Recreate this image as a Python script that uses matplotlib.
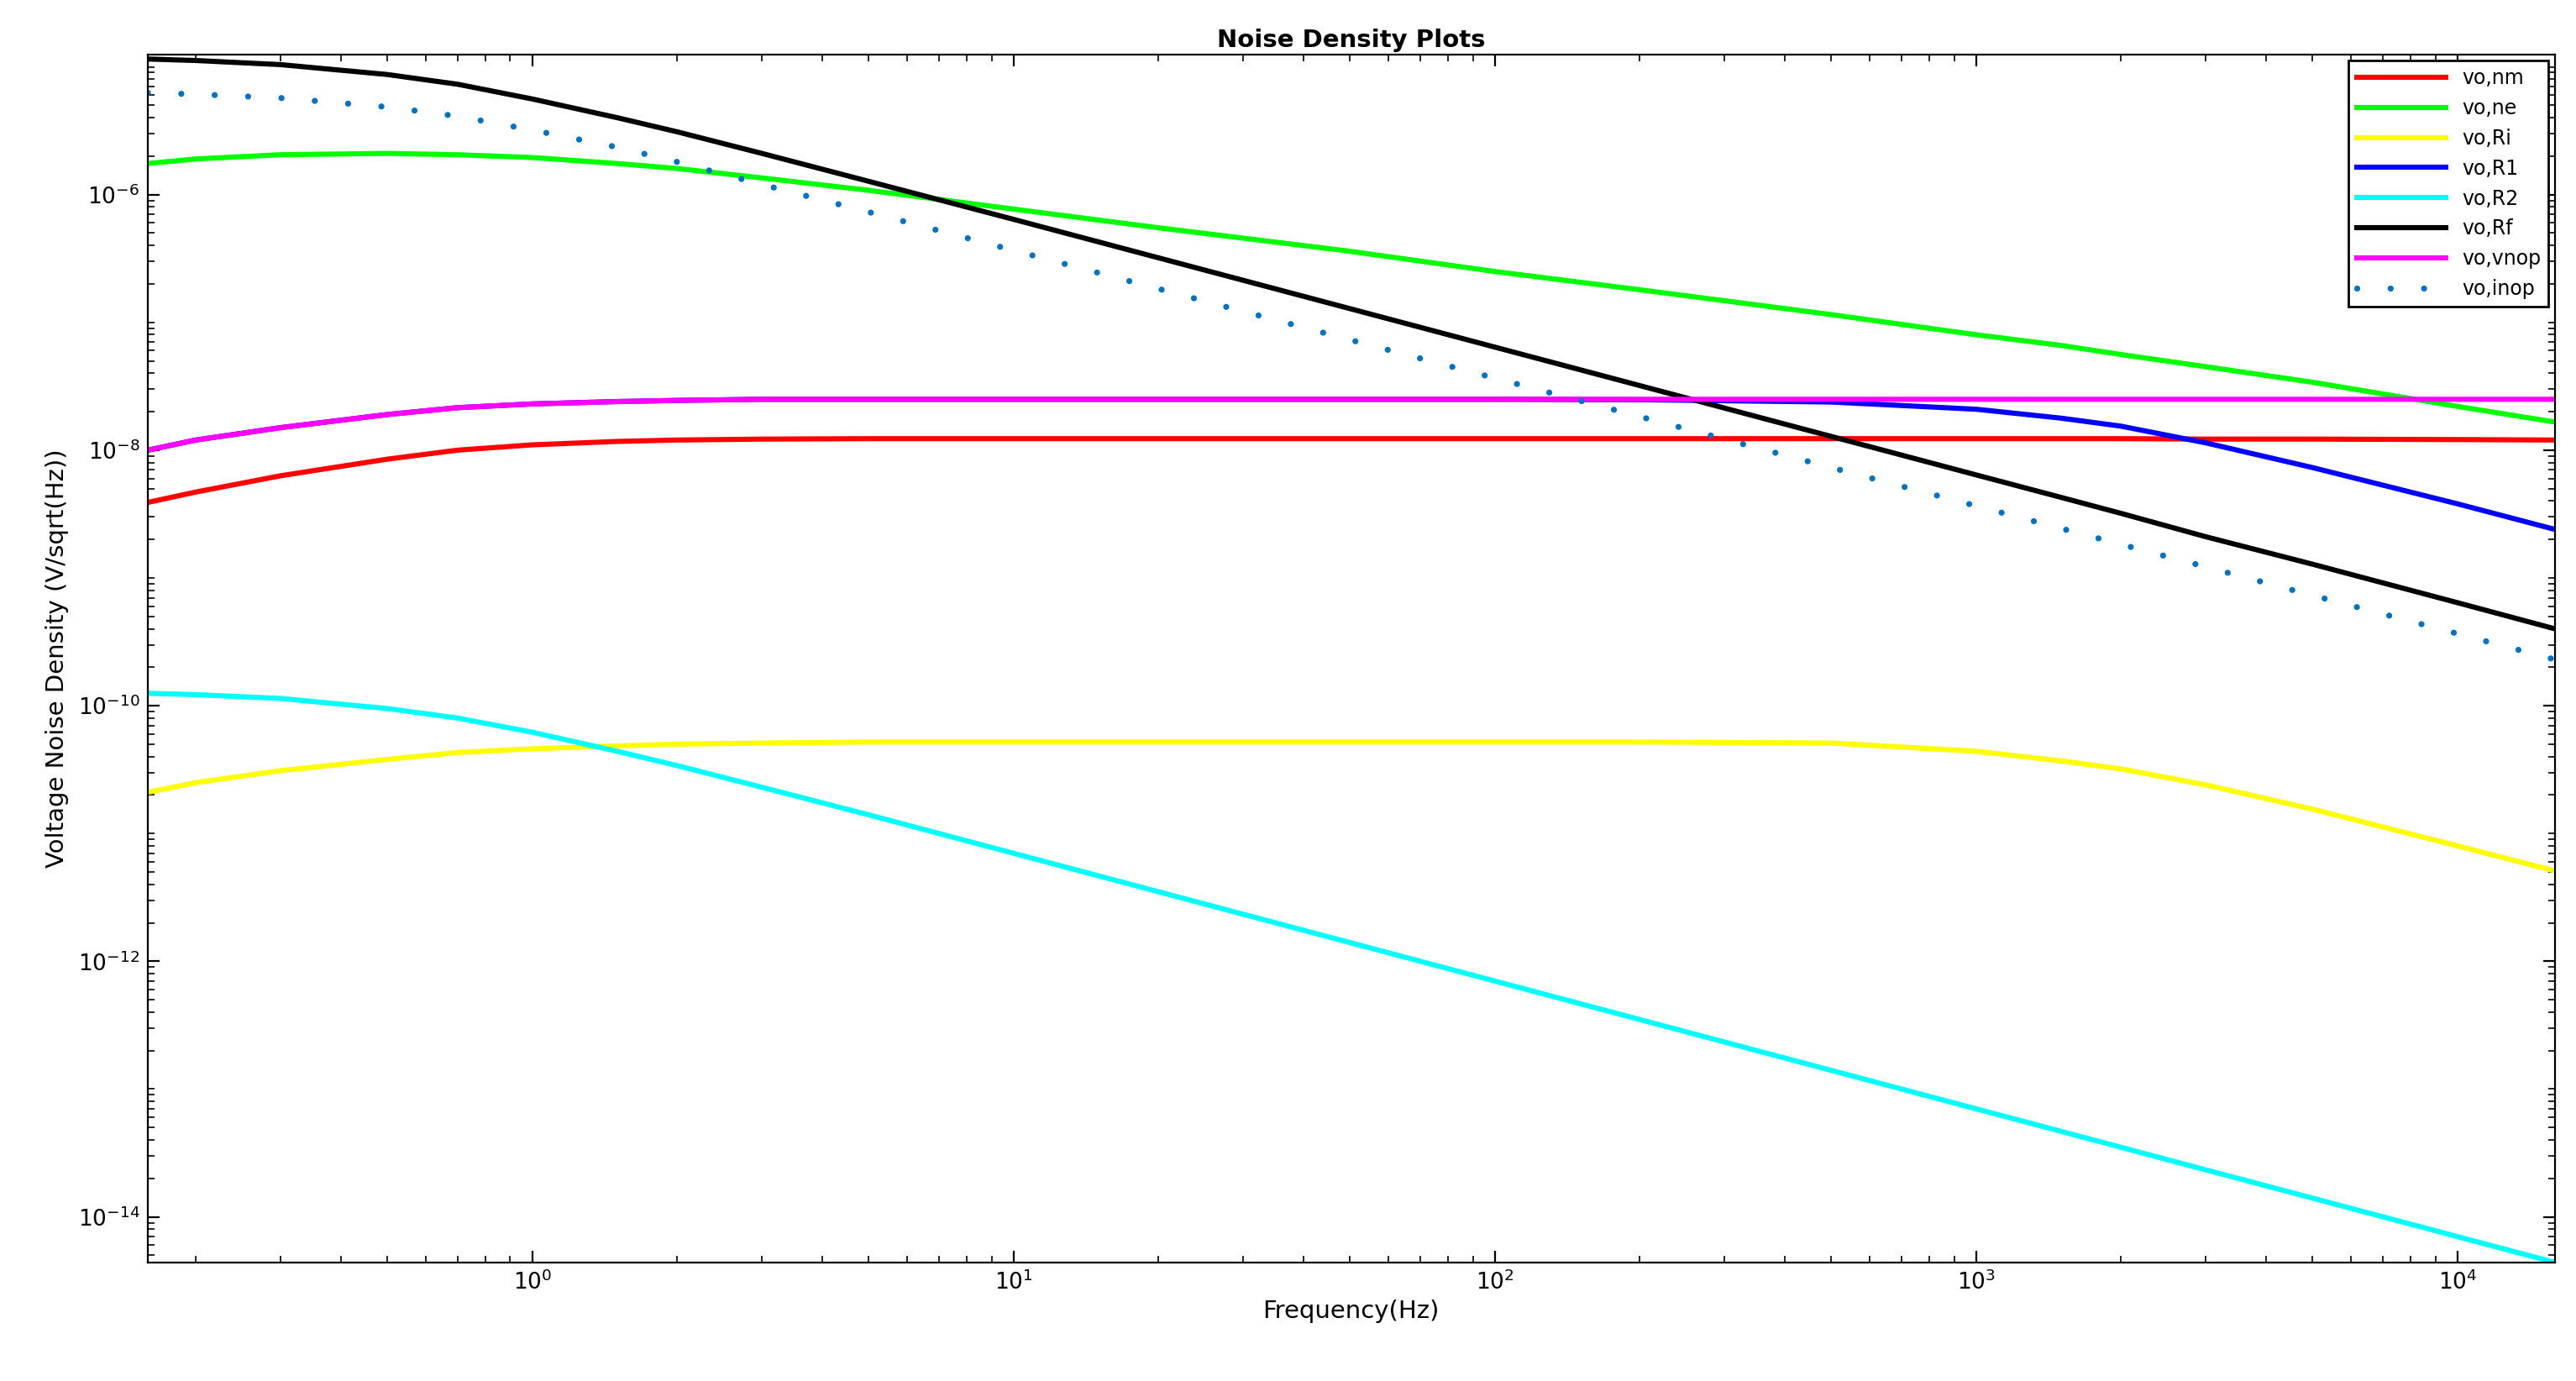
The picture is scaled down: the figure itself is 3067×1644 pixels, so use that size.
import matplotlib
matplotlib.use("Agg")
import matplotlib.pyplot as plt
from matplotlib.ticker import FixedLocator, LogLocator, NullFormatter

freq = [0.159, 0.2, 0.3, 0.5, 0.7, 1, 1.5, 2, 3, 5, 10, 20, 50, 100, 200, 500,
        1000, 1500, 2000, 3000, 5000, 10000, 15915]

vo_nm = [3.9e-9, 4.7e-9, 6.3e-9, 8.5e-9, 1.0e-8, 1.1e-8, 1.17e-8, 1.2e-8, 1.22e-8, 1.23e-8, 1.23e-8, 1.23e-8,
         1.23e-8, 1.23e-8, 1.23e-8, 1.23e-8, 1.23e-8, 1.23e-8, 1.23e-8, 1.22e-8, 1.22e-8, 1.21e-8, 1.2e-8]
vo_ne = [1.75e-6, 1.9e-6, 2.05e-6, 2.1e-6, 2.05e-6, 1.95e-6, 1.75e-6, 1.6e-6, 1.35e-6, 1.08e-6, 7.7e-7, 5.5e-7,
         3.6e-7, 2.5e-7, 1.8e-7, 1.15e-7, 8e-8, 6.6e-8, 5.6e-8, 4.5e-8, 3.4e-8, 2.2e-8, 1.66e-8]
vo_Ri = [2.1e-11, 2.5e-11, 3.1e-11, 3.8e-11, 4.3e-11, 4.6e-11, 4.85e-11, 5.0e-11, 5.1e-11, 5.2e-11, 5.2e-11, 5.2e-11,
         5.2e-11, 5.2e-11, 5.2e-11, 5.1e-11, 4.4e-11, 3.7e-11, 3.2e-11, 2.4e-11, 1.55e-11, 8.0e-12, 5.1e-12]
vo_R1 = [1.0e-8, 1.2e-8, 1.5e-8, 1.9e-8, 2.15e-8, 2.3e-8, 2.4e-8, 2.45e-8, 2.5e-8, 2.5e-8, 2.5e-8, 2.5e-8,
         2.5e-8, 2.5e-8, 2.48e-8, 2.38e-8, 2.09e-8, 1.78e-8, 1.54e-8, 1.14e-8, 7.3e-9, 3.8e-9, 2.4e-9]
vo_R2 = [1.25e-10, 1.22e-10, 1.14e-10, 9.5e-11, 8.0e-11, 6.2e-11, 4.4e-11, 3.4e-11, 2.3e-11, 1.4e-11, 7e-12, 3.5e-12,
         1.4e-12, 7e-13, 3.5e-13, 1.4e-13, 7e-14, 4.67e-14, 3.5e-14, 2.33e-14, 1.4e-14, 7e-15, 4.4e-15]
vo_Rf = [1.15e-5, 1.12e-5, 1.04e-5, 8.7e-6, 7.3e-6, 5.6e-6, 4.0e-6, 3.1e-6, 2.1e-6, 1.27e-6, 6.4e-7, 3.2e-7,
         1.28e-7, 6.4e-8, 3.2e-8, 1.28e-8, 6.4e-9, 4.27e-9, 3.2e-9, 2.1e-9, 1.28e-9, 6.4e-10, 4.0e-10]
vo_vnop = [1.0e-8, 1.2e-8, 1.5e-8, 1.9e-8, 2.15e-8, 2.3e-8, 2.4e-8, 2.45e-8, 2.5e-8, 2.5e-8, 2.5e-8, 2.5e-8,
           2.5e-8, 2.5e-8, 2.5e-8, 2.5e-8, 2.5e-8, 2.5e-8, 2.5e-8, 2.5e-8, 2.5e-8, 2.5e-8, 2.5e-8]
vo_inop = [6.25e-6, 6.1e-6, 5.7e-6, 4.85e-6, 4.1e-6, 3.2e-6, 2.35e-6, 1.8e-6, 1.2e-6, 7.3e-7, 3.66e-7, 1.83e-7,
           7.3e-8, 3.66e-8, 1.83e-8, 7.3e-9, 3.66e-9, 2.44e-9, 1.83e-9, 1.22e-9, 7.3e-10, 3.66e-10, 2.3e-10]

yticks = [1e-14, 1e-12, 1e-10, 1e-8, 1e-6]

fig = plt.figure(figsize=(15.335, 8.22), dpi=200)
ax = fig.add_axes([0.0574, 0.0859, 0.9343, 0.8747])
lw = 2.2
ax.loglog(freq, vo_nm, color='#ff0000', lw=lw, label='vo,nm')
ax.loglog(freq, vo_ne, color='#00ff00', lw=lw, label='vo,ne')
ax.loglog(freq, vo_Ri, color='#ffff00', lw=lw, label='vo,Ri')
ax.loglog(freq, vo_R1, color='#0000ff', lw=lw, label='vo,R1')
ax.loglog(freq, vo_R2, color='#00ffff', lw=lw, label='vo,R2')
ax.loglog(freq, vo_Rf, color='#000000', lw=lw, label='vo,Rf')
ax.loglog(freq, vo_vnop, color='#ff00ff', lw=lw, label='vo,vnop')
ax.loglog(freq, vo_inop, color='#0072bd', lw=2.6, linestyle=(0, (0.01, 5.5)),
          dash_capstyle='round', label='vo,inop')

ax.set_xlim(0.159, 15915)
ax.set_ylim(4.4e-15, 1.25e-5)
ax.yaxis.set_major_locator(FixedLocator(yticks))
ax.yaxis.set_minor_locator(LogLocator(base=10, subs=(1.0, 2, 3, 4, 5, 6, 7, 8, 9), numticks=40))
ax.yaxis.set_minor_formatter(NullFormatter())
ax.tick_params(which='both', direction='in', top=True, right=True, labelsize=9.5)
ax.tick_params(which='major', length=5)
ax.tick_params(which='minor', length=3)
ax.set_xlabel('Frequency(Hz)', fontsize=10.5, labelpad=2)
ax.set_ylabel('Voltage Noise Density (V/sqrt(Hz))', fontsize=10.5)
ax.set_title('Noise Density Plots', fontsize=10.5, fontweight='bold', pad=3)
leg = ax.legend(loc='upper right', fontsize=8.5, fancybox=False, framealpha=1,
                edgecolor='black', borderaxespad=0.3, handlelength=4.5)
leg.get_frame().set_linewidth(1.0)
fig.savefig('out.png', dpi=200)
